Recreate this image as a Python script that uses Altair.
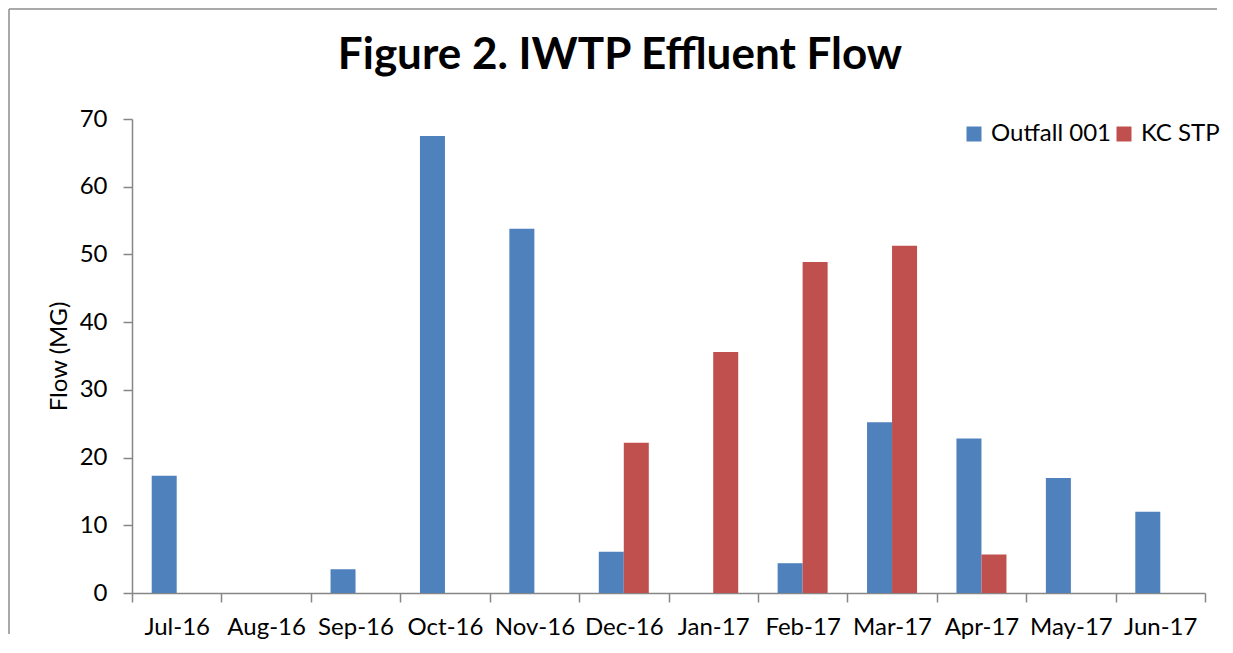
import altair as alt
import pandas as pd

months = ["Jul-16", "Aug-16", "Sep-16", "Oct-16", "Nov-16", "Dec-16",
          "Jan-17", "Feb-17", "Mar-17", "Apr-17", "May-17", "Jun-17"]
series = ["Outfall 001", "KC STP"]
outfall = [17.3, 0, 3.5, 67.5, 53.8, 6.1, 0, 4.4, 25.2, 22.8, 17.0, 12.0]
kc_stp = [0, 0, 0, 0, 0, 22.2, 35.6, 48.9, 51.3, 5.7, 0, 0]
colors = ["#4F81BD", "#C0504D"]
title_text = "Figure 2. IWTP Effluent Flow"

rows = []
for m, a, b in zip(months, outfall, kc_stp):
    rows.append({"month": m, "series": series[0], "flow": a})
    rows.append({"month": m, "series": series[1], "flow": b})
df = pd.DataFrame(rows)

W, H = 1073, 474
FONT = "Lato"
AXIS_GRAY = "#868686"

bars = alt.Chart(df).mark_bar().encode(
    x=alt.X("month:N", sort=months,
            scale=alt.Scale(paddingInner=0, paddingOuter=0),
            axis=alt.Axis(title=None, labelAngle=0, tickBand="extent",
                          labelFontSize=24, labelFont=FONT, labelColor="black",
                          labelPadding=13, tickSize=9, domainColor=AXIS_GRAY,
                          tickColor=AXIS_GRAY, domainWidth=1.5, tickWidth=1.5)),
    xOffset=alt.XOffset("series:N", sort=series,
                        scale=alt.Scale(paddingInner=0, paddingOuter=0.788)),
    y=alt.Y("flow:Q", scale=alt.Scale(domain=[0, 70]),
            axis=alt.Axis(title="Flow (MG)", values=list(range(0, 71, 10)), grid=False,
                          labelFontSize=24, labelFont=FONT, labelColor="black",
                          labelPadding=16, tickSize=9, domainColor=AXIS_GRAY,
                          tickColor=AXIS_GRAY, domainWidth=1.5, tickWidth=1.5,
                          titleFont=FONT, titleFontSize=24, titleFontWeight="normal",
                          titleColor="black", titleX=-73, titleY=237,
                          titleAlign="center", titleBaseline="middle")),
    color=alt.Color("series:N", sort=series,
                    scale=alt.Scale(domain=series, range=colors),
                    legend=alt.Legend(title=None, orient="none", direction="horizontal",
                                      legendX=830, legendY=3, symbolType="square",
                                      symbolSize=225, symbolStrokeWidth=0,
                                      labelFont=FONT, labelFontSize=24, labelColor="black",
                                      labelOffset=5, columnPadding=0)),
)

title_mark = alt.Chart(pd.DataFrame({"t": [title_text]})).mark_text(
    font=FONT, fontSize=44, fontWeight="bold", color="black",
    align="center", baseline="alphabetic"
).encode(text="t:N", x=alt.value(488), y=alt.value(-50))

border_left = alt.Chart(pd.DataFrame({"a": [0]})).mark_rule(
    color="#8c8c8c", strokeWidth=1.5
).encode(x=alt.value(-123), y=alt.value(-110), y2=alt.value(515))

border_top = alt.Chart(pd.DataFrame({"a": [0]})).mark_rule(
    color="#8c8c8c", strokeWidth=1.5
).encode(x=alt.value(-123), x2=alt.value(1085), y=alt.value(-110))

chart = alt.layer(bars, title_mark, border_left, border_top).properties(
    width=W, height=H, padding={"left": 0, "top": 0, "right": 0, "bottom": 0}
).configure_view(stroke=None)

chart.save("out.html", embed_options={"renderer": "svg", "actions": False})
